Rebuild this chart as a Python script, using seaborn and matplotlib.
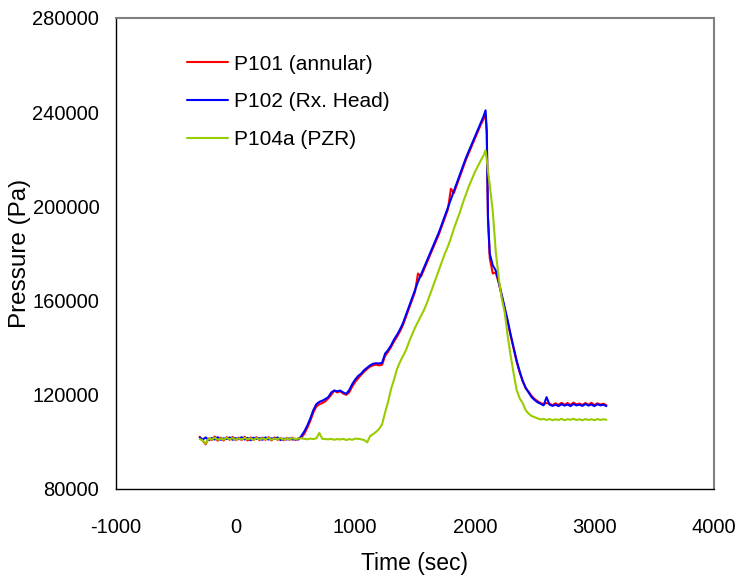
import numpy as np
import pandas as pd
import matplotlib
matplotlib.use("Agg")
import matplotlib.pyplot as plt
import seaborn as sns

TIME = [
    -300, -275, -250, -225, -200, -175, -150, -125, -100, -75,
    -50, -25, 0, 25, 50, 75, 100, 125, 150, 175,
    200, 225, 250, 275, 300, 325, 350, 375, 400, 425,
    450, 475, 500, 525, 550, 575, 600, 625, 650, 675,
    700, 725, 750, 775, 800, 825, 850, 875, 900, 925,
    950, 975, 1000, 1025, 1050, 1075, 1100, 1125, 1150, 1175,
    1200, 1225, 1250, 1275, 1300, 1325, 1350, 1375, 1400, 1425,
    1450, 1475, 1500, 1525, 1550, 1575, 1600, 1625, 1650, 1675,
    1700, 1725, 1750, 1775, 1800, 1825, 1850, 1875, 1900, 1925,
    1950, 1975, 2000, 2025, 2050, 2075, 2090, 2100, 2110, 2125,
    2150, 2175, 2200, 2225, 2250, 2275, 2300, 2325, 2350, 2375,
    2400, 2425, 2450, 2475, 2500, 2525, 2550, 2575, 2600, 2625,
    2650, 2675, 2700, 2725, 2750, 2775, 2800, 2825, 2850, 2875,
    2900, 2925, 2950, 2975, 3000, 3025, 3050, 3075, 3100,
]

P101 = [
    102200, 100500, 99000, 101500, 100800, 102300, 100500, 101800, 100600, 102000,
    100900, 102100, 100700, 101800, 100800, 102200, 100600, 101900, 100800, 102000,
    100700, 101800, 100900, 102000, 100600, 101900, 100900, 101700, 100700, 101600,
    100900, 101800, 100800, 101500, 101800, 103500, 106000, 109000, 112500, 115000,
    116000, 116500, 117200, 118500, 120000, 121800, 121000, 121500, 120500, 120000,
    121000, 123500, 125500, 127000, 128500, 129800, 131000, 132000, 132500, 132800,
    132500, 132800, 136500, 138300, 140300, 142700, 144700, 147000, 149700, 153200,
    156700, 160200, 163700, 171500, 170200, 173200, 176200, 179200, 182200, 185200,
    188200, 191700, 195200, 198700, 207500, 205700, 209200, 212700, 216200, 219700,
    222700, 225700, 228700, 231700, 234700, 237200, 238800, 231000, 196000, 178000,
    171500, 172000, 167500, 162000, 156500, 151000, 145000, 139500, 134000, 129500,
    125800, 122800, 121300, 119500, 118200, 117300, 116500, 116000, 116500, 116200,
    115600, 116400, 115700, 116600, 115800, 116500, 115700, 116700, 115900, 116300,
    115700, 116500, 115800, 116600, 115600, 116400, 115900, 116200, 115600,
]

P102 = [
    101800, 101000, 101900, 100800, 101600, 101000, 102000, 100900, 101500, 101200,
    101900, 100900, 101600, 101100, 102000, 101000, 101700, 100700, 101800, 101200,
    101600, 100900, 101900, 101000, 101500, 101200, 101900, 100800, 101400, 101000,
    101500, 101000, 101300, 101000, 102500, 104500, 107000, 110000, 113500, 116000,
    117000, 117500, 118200, 119000, 121000, 121800, 121500, 121800, 121000, 120400,
    122000, 124500, 126500, 128000, 129000, 130500, 131500, 132500, 133200, 133400,
    133300, 133600, 137500, 139000, 141000, 143500, 145500, 147800, 150500, 154000,
    157500, 161000, 164500, 168000, 171000, 174000, 177000, 180000, 183000, 186000,
    189000, 192500, 196000, 199500, 203000, 206500, 210000, 213500, 217000, 220500,
    223500, 226500, 229500, 232500, 235500, 238500, 240800, 232000, 195000, 180000,
    175000, 172800, 168000, 162500, 157000, 151500, 145500, 140000, 134500, 130000,
    126000, 123000, 121000, 119000, 117800, 116800, 116200, 115500, 119000, 115800,
    115300, 115800, 115200, 116000, 115400, 115900, 115200, 116100, 115500, 115800,
    115300, 116100, 115400, 115900, 115200, 116000, 115500, 115800, 115200,
]

P104A = [
    101200, 100600, 99300, 101500, 101000, 101800, 100900, 101400, 101000, 101700,
    101100, 101600, 100900, 101500, 101000, 101700, 101100, 101500, 100900, 101600,
    101000, 101500, 101100, 101700, 100900, 101400, 101200, 101600, 101000, 101300,
    101100, 101600, 101200, 101400, 101500, 101300, 101100, 101400, 101200, 101500,
    103800, 101300, 101200, 101100, 101300, 100900, 101200, 101000, 101300, 100800,
    101200, 100900, 101400, 101300, 101100, 100800, 99800, 102500, 103300, 104300,
    105500, 107500, 112500, 117000, 122500, 126500, 131000, 134000, 136500, 139000,
    142500, 145500, 148500, 151000, 153500, 156000, 159000, 162500, 166000, 169500,
    173000, 176500, 180000, 183000, 186500, 190500, 194000, 197500, 201500, 205000,
    208500, 211500, 214500, 217000, 219500, 221800, 223800, 220000, 215000, 209000,
    198000, 181000, 169500, 161000, 155000, 145000, 136500, 129000, 122000, 118500,
    116500, 113500, 112000, 111000, 110500, 110000, 109500, 109800, 109300, 109700,
    109200, 109600, 109300, 109800, 109200, 109600, 109400, 109800, 109300, 109600,
    109200, 109700, 109300, 109600, 109200, 109700, 109300, 109600, 109400,
]

LABELS = ["P101 (annular)", "P102 (Rx. Head)", "P104a (PZR)"]
COLORS = ["#ff0000", "#0000ff", "#99cc00"]
XTICKS = [-1000, 0, 1000, 2000, 3000, 4000]
YTICKS = [80000, 120000, 160000, 200000, 240000, 280000]

assert len(TIME) == len(P101) == len(P102) == len(P104A)

frames = []
for lab, vals in zip(LABELS, [P101, P102, P104A]):
    frames.append(pd.DataFrame({"Time": TIME, "Pressure": vals, "Sensor": lab}))
df = pd.concat(frames, ignore_index=True)

sns.set_style("white")
plt.rcParams["font.family"] = ["Liberation Sans", "DejaVu Sans"]
plt.rcParams["text.color"] = "black"
plt.rcParams["axes.labelcolor"] = "black"

fig = plt.figure(figsize=(7.43, 5.80), dpi=100)
ax = fig.add_axes([116 / 743, 1 - 489 / 580, (714 - 116) / 743, (489 - 18) / 580])

sns.lineplot(data=df, x="Time", y="Pressure", hue="Sensor", hue_order=LABELS,
             palette=COLORS, estimator=None, sort=False, linewidth=1.5, ax=ax)

ax.set_xlim(-1000, 4000)
ax.set_ylim(80000, 280000)
ax.set_xticks(XTICKS)
ax.set_yticks(YTICKS)
ax.set_xticklabels([str(v) for v in XTICKS])
ax.set_yticklabels([str(v) for v in YTICKS])

ax.tick_params(axis="both", direction="in", length=6, width=1, color="black",
               labelsize=14.5, labelcolor="black")
ax.tick_params(axis="x", pad=21)
ax.tick_params(axis="y", pad=12)

for side in ["left", "bottom"]:
    ax.spines[side].set_color("black")
    ax.spines[side].set_linewidth(1.0)
for side in ["top", "right"]:
    ax.spines[side].set_color("#808080")
    ax.spines[side].set_linewidth(1.5)
    ax.spines[side].set_visible(True)

ax.set_xlabel("Time (sec)", fontsize=16.5, labelpad=11, color="black")
ax.set_ylabel("Pressure (Pa)", fontsize=17.5, labelpad=1, color="black")

leg = ax.legend(loc="upper left", bbox_to_anchor=(0.118, 0.922), frameon=False,
                fontsize=15, handlelength=2.0, handletextpad=0.3,
                labelspacing=0.9, borderpad=0, borderaxespad=0)
for text in leg.get_texts():
    text.set_color("black")
for line in leg.get_lines():
    line.set_linewidth(1.5)

fig.savefig("out.png", dpi=100)
